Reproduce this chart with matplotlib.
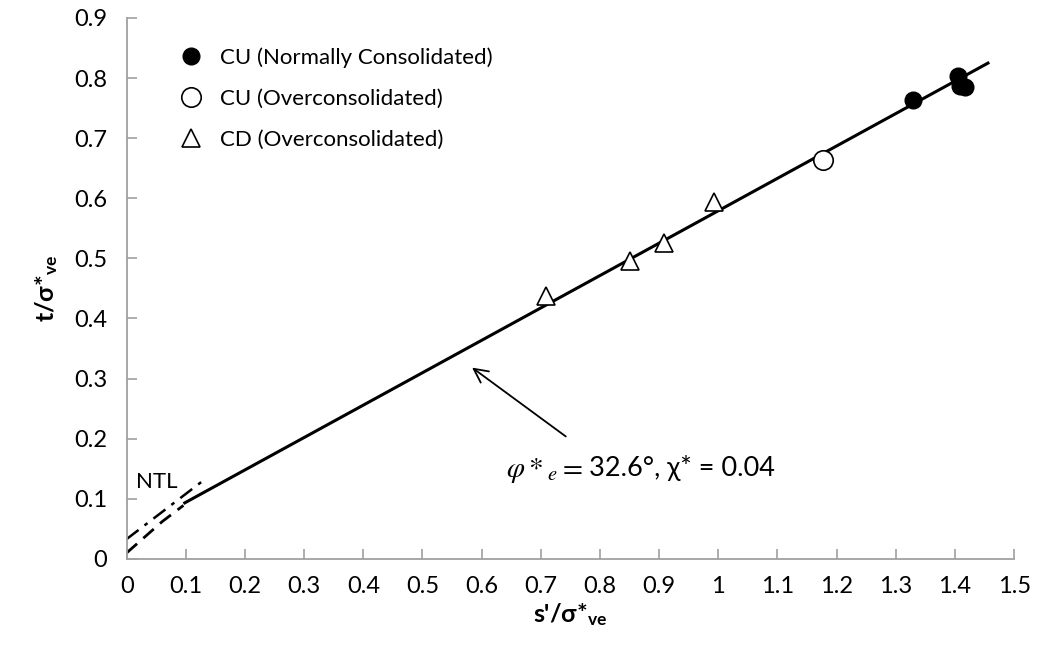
import matplotlib
matplotlib.use('Agg')
import matplotlib.pyplot as plt

plt.rcParams['font.family'] = ['Lato', 'Open Sans', 'DejaVu Sans']
plt.rcParams['mathtext.fontset'] = 'custom'
plt.rcParams['mathtext.rm'] = 'Lato'
plt.rcParams['mathtext.bf'] = 'Lato:bold'
plt.rcParams['mathtext.it'] = 'Lato:italic'

# data
cu_nc_s = [1.329, 1.405, 1.409, 1.417]
cu_nc_t = [0.763, 0.804, 0.787, 0.785]
cu_oc_s = [1.177]
cu_oc_t = [0.664]
cd_oc_s = [0.708, 0.851, 0.909, 0.992]
cd_oc_t = [0.438, 0.496, 0.525, 0.594]

# failure envelope: phi*_e = 32.6 deg, chi* = 0.04
env_s = [0.096, 1.458]
env_t = [0.092, 0.826]
# curved part down to origin
tail_s = [0.0, 0.03, 0.06, 0.096]
tail_t = [0.010, 0.036, 0.062, 0.089]
# NTL
ntl_s = [0.0, 0.133]
ntl_t = [0.033, 0.133]

fig = plt.figure(figsize=(10.38, 6.63), dpi=100)
ax = fig.add_axes([0.122, 0.157, 0.855, 0.816])

ax.plot(env_s, env_t, color='black', lw=2.2, solid_capstyle='butt')
ax.plot(tail_s, tail_t, color='black', lw=2.0, dashes=(5, 3))
ax.plot(ntl_s, ntl_t, color='black', lw=1.8, dashes=(6, 3, 1.5, 3))

ax.plot(cu_nc_s, cu_nc_t, 'o', ms=12, color='black', ls='none',
        label='CU (Normally Consolidated)')
ax.plot(cu_oc_s, cu_oc_t, 'o', ms=14, mfc='white', mec='black', mew=1.2,
        ls='none', label='CU (Overconsolidated)')
ax.plot(cd_oc_s, cd_oc_t, '^', ms=13, mfc='white', mec='black', mew=1.2,
        ls='none', label='CD (Overconsolidated)')

ax.annotate('', xy=(0.580, 0.321), xytext=(0.746, 0.201),
            arrowprops=dict(arrowstyle='->', color='black', lw=1.3,
                            mutation_scale=25))
ax.text(0.770, 0.147, r'$\varphi*_e = $', fontsize=21, ha='right', va='center',
        math_fontfamily='stix')
ax.text(0.781, 0.151, '32.6°, χ* = 0.04', fontsize=19.5, ha='left', va='center')
ax.text(0.016, 0.118, 'NTL', fontsize=16)

ax.set_xlim(0, 1.5)
ax.set_ylim(0, 0.9)
ax.set_xticks([i / 10 for i in range(16)])
ax.set_xticklabels(['0'] + ['%.1f' % (i / 10) for i in range(1, 10)] + ['1']
                   + ['%.1f' % (i / 10) for i in range(11, 16)])
ax.set_yticks([i / 10 for i in range(10)])
ax.set_yticklabels(['0'] + ['%.1f' % (i / 10) for i in range(1, 10)])
ax.tick_params(direction='in', length=7, width=1.2, color='#a0a0a0',
               labelsize=17)
ax.tick_params(axis='x', pad=12)
ax.tick_params(axis='y', pad=14)
for side in ['top', 'right']:
    ax.spines[side].set_visible(False)
for side in ['left', 'bottom']:
    ax.spines[side].set_color('#a0a0a0')
    ax.spines[side].set_linewidth(1.3)

ax.set_xlabel(r"s'/σ*$_{\mathbf{ve}}$", fontsize=18, fontweight='bold', labelpad=3)
ax.set_ylabel(r"t/σ*$_{\mathbf{ve}}$", fontsize=18, fontweight='bold', labelpad=10)

ax.legend(loc='upper left', bbox_to_anchor=(0.05, 0.962), frameon=False,
          fontsize=16, handletextpad=0.8, labelspacing=0.95, borderaxespad=0,
          handlelength=1.0)

fig.savefig('out.png', dpi=100)
